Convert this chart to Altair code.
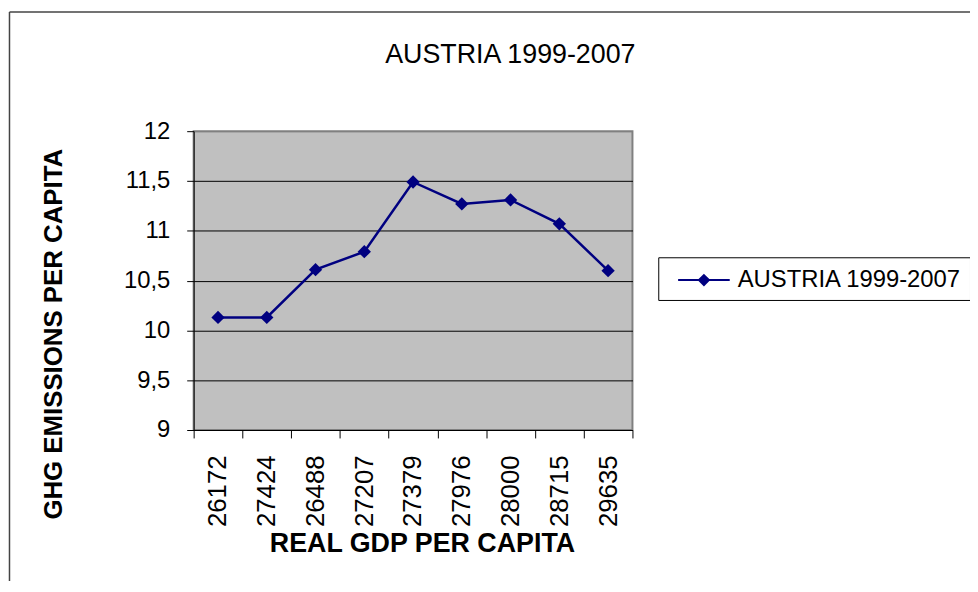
import altair as alt
import pandas as pd

title_text = "AUSTRIA 1999-2007"
series_name = "AUSTRIA 1999-2007"
gdp = ["26172", "27424", "26488", "27207", "27379", "27976", "28000", "28715", "29635"]
ghg = [10.13, 10.13, 10.61, 10.79, 11.49, 11.27, 11.31, 11.07, 10.60]
y_ticks = [9, 9.5, 10, 10.5, 11, 11.5, 12]

FONT = "Liberation Sans"
NAVY = "#000080"

df = pd.DataFrame({"gdp": gdp, "ghg": ghg, "series": [series_name] * len(gdp)})

x_enc = alt.X(
    "gdp:N",
    sort=gdp,
    scale=alt.Scale(paddingInner=0, paddingOuter=0),
    axis=alt.Axis(
        title="REAL GDP PER CAPITA",
        titleFont=FONT, titleFontSize=27, titleFontWeight="bold", titleColor="black",
        titleX=230, titleY=122, titleAlign="center", titleBaseline="alphabetic",
        labelFont=FONT, labelFontSize=26, labelColor="black",
        labelAngle=270, labelAlign="right", labelBaseline="middle", labelPadding=17,
        tickBand="extent", tickSize=8, tickColor="black",
        domainColor="black", domainWidth=1, grid=False,
    ),
)
y_enc = alt.Y(
    "ghg:Q",
    scale=alt.Scale(domain=[9, 12], nice=False, zero=False),
    axis=alt.Axis(
        title="GHG EMISSIONS PER CAPITA",
        titleFont=FONT, titleFontSize=26, titleFontWeight="bold", titleColor="black",
        titleAngle=270, titleX=-141, titleY=204, titleAlign="center", titleBaseline="middle",
        values=y_ticks,
        labelExpr="replace(toString(datum.value), '.', ',')",
        labelFont=FONT, labelFontSize=24, labelColor="black", labelPadding=17,
        tickSize=7, tickColor="black", domainColor="black", domainWidth=1,
        grid=True,
        gridColor={"condition": {"test": "datum.value == 12", "value": "#808080"}, "value": "black"},
        gridWidth=1,
    ),
)

line = alt.Chart(df).mark_line(strokeWidth=2.5).encode(
    x=x_enc,
    y=y_enc,
    color=alt.Color(
        "series:N",
        scale=alt.Scale(range=[NAVY]),
        legend=alt.Legend(
            title=None, orient="none", legendX=468, legendY=127,
            strokeColor="black", fillColor="white", padding=8,
            symbolType="M-1.857,0H1.857M0,-0.36L0.36,0L0,0.36L-0.36,0Z",
            symbolSize=784, symbolStrokeWidth=2, symbolFillColor=NAVY,
            symbolStrokeColor=NAVY, symbolOffset=23, labelOffset=19, labelLimit=400,
            labelFont=FONT, labelFontSize=24, labelColor="black",
        ),
    ),
)
points = alt.Chart(df).mark_point(shape="diamond", filled=True, size=180, color=NAVY, opacity=1).encode(
    x=alt.X("gdp:N", sort=gdp), y="ghg:Q"
)

frame_df = pd.DataFrame({"k": [0]})
frame_left = alt.Chart(frame_df).mark_rule(color="#444444", strokeWidth=1.5).encode(
    x=alt.value(-185.5), y=alt.value(-120), y2=alt.value(470)
)
frame_top = alt.Chart(frame_df).mark_rule(color="#444444", strokeWidth=1.5).encode(
    x=alt.value(-185.5), x2=alt.value(790), y=alt.value(-120)
)
title_df = pd.DataFrame({"t": [title_text]})
title = alt.Chart(title_df).mark_text(
    font=FONT, fontSize=27, color="black", align="center", baseline="alphabetic"
).encode(x=alt.value(319), y=alt.value(-69), text="t:N")

chart = alt.layer(frame_left, frame_top, title, line, points).properties(
    width=442, height=301,
    autosize=alt.AutoSizeParams(type="none"),
    padding={"left": 187, "top": 122, "right": 340, "bottom": 150},
    background="white",
).configure_view(
    fill="#C0C0C0", stroke="#808080", strokeWidth=2
)

chart.save("out.html", embed_options={"renderer": "svg", "actions": False})
